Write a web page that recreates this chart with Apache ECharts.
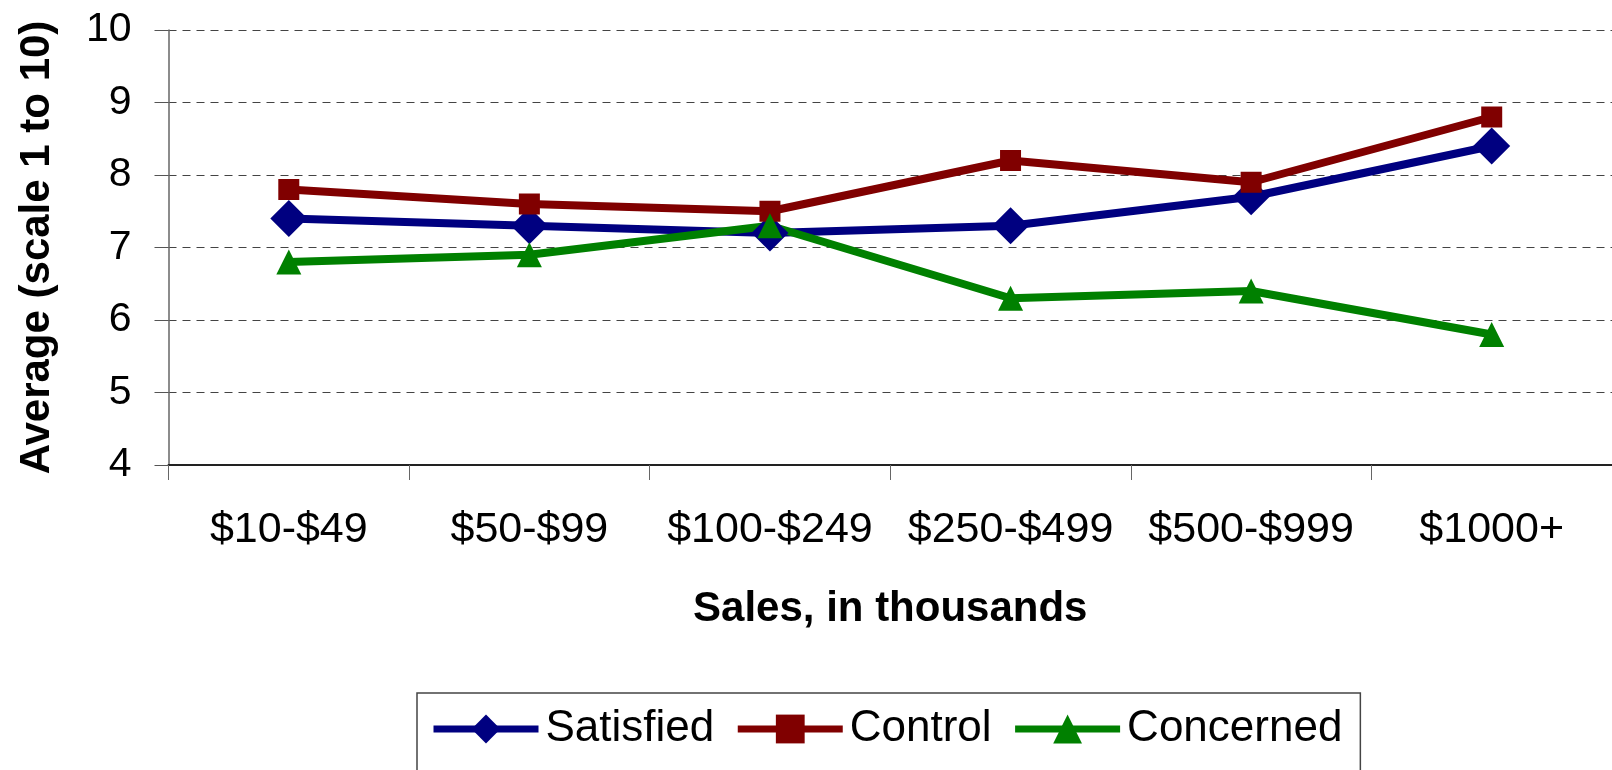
<!DOCTYPE html>
<html>
<head>
<meta charset="utf-8">
<script src="https://cdn.jsdelivr.net/npm/echarts@6/dist/echarts.min.js"></script>
<style>
  html, body { margin: 0; padding: 0; background: #fff; }
  #chart { width: 1612px; height: 770px; }
</style>
</head>
<body>
<div id="chart"></div>
<script>
// data
var categories = ['$10-$49', '$50-$99', '$100-$249', '$250-$499', '$500-$999', '$1000+'];
var satisfied = [7.4, 7.3, 7.2, 7.3, 7.7, 8.4];
var control = [7.8, 7.6, 7.5, 8.2, 7.9, 8.8];
var concerned = [6.8, 6.9, 7.3, 6.3, 6.4, 5.8];
var yTicks = [4, 5, 6, 7, 8, 9, 10];

var font = 'Liberation Sans, Arial, sans-serif';

var chart = echarts.init(document.getElementById('chart'));

function lineSeries (name, data, color, symbol, size) {
  return {
    name: name,
    type: 'line',
    data: data,
    symbol: symbol,
    symbolSize: size,
    showAllSymbol: true,
    itemStyle: { color: color },
    lineStyle: { color: color, width: 8 },
    emphasis: { disabled: true },
    animation: false
  }
}

var option = {
  backgroundColor: '#fff',
  textStyle: { fontFamily: font },
  grid: { left: 168.5, top: 30, width: 1446, height: 435 },
  xAxis: {
    type: 'category',
    data: categories,
    boundaryGap: true,
    name: 'Sales, in thousands',
    nameLocation: 'middle',
    nameGap: 123,
    nameTextStyle: { fontSize: 42, fontWeight: 'bold', color: '#000', fontFamily: font },
    axisLine: { lineStyle: { color: '#222', width: 2 } },
    axisTick: { show: true, length: 15, lineStyle: { color: '#666', width: 1 } },
    axisLabel: { fontSize: 43, color: '#000', margin: 44, interval: 0, fontFamily: font },
    splitLine: { show: false }
  },
  yAxis: {
    type: 'value',
    min: yTicks[0],
    max: yTicks[yTicks.length - 1],
    interval: 1,
    name: 'Average (scale 1 to 10)',
    nameLocation: 'middle',
    nameGap: 110,
    nameRotate: 90,
    nameTextStyle: { fontSize: 42, fontWeight: 'bold', color: '#000', fontFamily: font },
    axisLine: { show: true, lineStyle: { color: '#666', width: 1.5 } },
    axisTick: { show: true, length: 14, inside: false, lineStyle: { color: '#555' } },
    axisLabel: { fontSize: 41, color: '#000', margin: 37, fontFamily: font },
    splitLine: { show: true, lineStyle: { color: '#444', type: [8, 6], width: 1.2 } }
  },
  legend: {
    left: 417,
    top: 693,
    orient: 'horizontal',
    borderColor: '#444',
    borderWidth: 1.5,
    padding: [14, 18, 40, 13],
    itemGap: 20,
    itemWidth: 105,
    itemHeight: 36,
    lineStyle: { width: 7 },
    textStyle: { fontSize: 44, color: '#000', fontFamily: font, padding: [0, 0, 0, 2] },
    data: ['Satisfied', 'Control', 'Concerned']
  },
  series: [
    lineSeries('Satisfied', satisfied, '#000080', 'diamond', 37),
    lineSeries('Control', control, '#800000', 'rect', 21),
    lineSeries('Concerned', concerned, '#008000', 'triangle', 25)
  ]
};

chart.setOption(option);
</script>
</body>
</html>
